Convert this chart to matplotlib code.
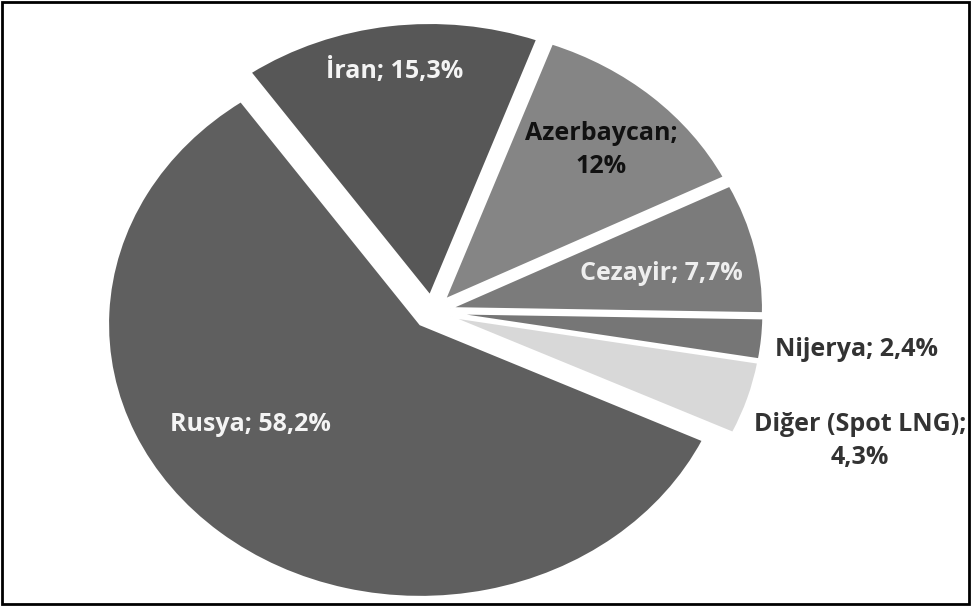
import matplotlib.pyplot as plt
from matplotlib.patches import Rectangle

# share of natural gas imports (%)
countries = ['Rusya', 'İran', 'Azerbaycan', 'Cezayir', 'Nijerya', 'Diğer (Spot LNG)']
shares = [58.2, 15.3, 12.0, 7.7, 2.4, 4.3]
share_text = ['58,2%', '15,3%', '12%', '7,7%', '2,4%', '4,3%']

colors = ['#5f5f5f', '#575757', '#858585', '#7b7b7b', '#767676', '#d8d8d8']
label_colors = ['#f4f4f4', '#f4f4f4', '#111111', '#eeeeee', '#333333', '#333333']
label_sep = ['; ', '; ', ';\n', '; ', '; ', ';\n']
label_xy = [(-0.584, -0.415), (-0.12, 0.882), (0.54, 0.594),
            (0.732, 0.142), (1.357, -0.14), (1.37, -0.474)]

W, H = 971, 606
cx, cy = 432.4, 294.2      # pie centre in pixels (from bottom)
sx, sy = 312.3, 272.6      # pixels per unit radius

fig = plt.figure(figsize=(W / 100, H / 100), dpi=100)
ax = fig.add_axes([(cx - 1.3 * sx) / W, (cy - 1.08 * sy) / H,
                   2.6 * sx / W, 2.16 * sy / H])
ax.pie(shares, colors=colors, explode=[0.06] * len(shares),
       startangle=-25.2, counterclock=False,
       wedgeprops=dict(edgecolor='white', linewidth=1.5))
ax.set_aspect('auto')
ax.set_xlim(-1.3, 1.3)
ax.set_ylim(-1.08, 1.08)
ax.axis('off')

for name, txt, sep, col, (x, y) in zip(countries, share_text, label_sep,
                                       label_colors, label_xy):
    ax.text(x, y, name + sep + txt, ha='center', va='center',
            fontsize=18, fontweight='bold', family='Open Sans', color=col,
            linespacing=1.45)

fig.patches.append(Rectangle((0.002, 0.003), 0.996, 0.994, transform=fig.transFigure,
                             fill=False, edgecolor='black', linewidth=2))
fig.savefig('out.png', dpi=100)
